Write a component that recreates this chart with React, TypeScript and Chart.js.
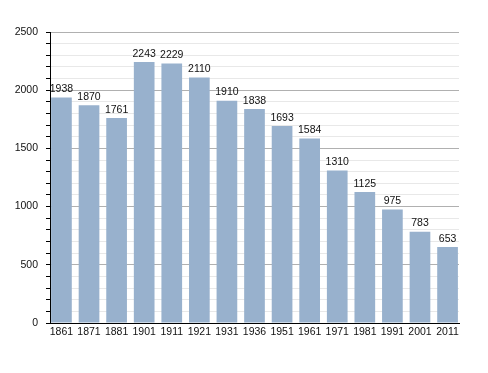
import React, { useEffect, useRef } from "react";
import { Chart, registerables } from "chart.js";

Chart.register(...registerables);

const years: string[] = ["1861", "1871", "1881", "1901", "1911", "1921", "1931", "1936", "1951", "1961", "1971", "1981", "1991", "2001", "2011"];
const population: number[] = [1938, 1870, 1761, 2243, 2229, 2110, 1910, 1838, 1693, 1584, 1310, 1125, 975, 783, 653];
const yMax = 2500;
const yMinorStep = 100;
const yMajorStep = 500;

const FONT = "'Liberation Sans', Arial, sans-serif";

const valueLabels = {
  id: "valueLabels",
  afterDatasetsDraw(chart: any) {
    const ctx = chart.ctx;
    const meta = chart.getDatasetMeta(0);
    ctx.save();
    ctx.font = `10.5px ${FONT}`;
    ctx.fillStyle = "#111";
    ctx.textAlign = "center";
    ctx.textBaseline = "bottom";
    meta.data.forEach((bar: any, i: number) => {
      ctx.fillText(String(population[i]), bar.x, bar.y - 3);
    });
    ctx.restore();
  },
};

export default function App() {
  const ref = useRef<HTMLCanvasElement>(null);
  useEffect(() => {
    if (!ref.current) return;
    const chart = new Chart(ref.current, {
      type: "bar",
      data: {
        datasets: [
          {
            data: population.map((v, i) => ({ x: i, y: v })),
            backgroundColor: "#98b1cd",
            borderWidth: 0,
            barPercentage: 0.75,
            categoryPercentage: 1,
          },
        ],
      },
      options: {
        responsive: false,
        animation: false,
        devicePixelRatio: 1,
        layout: { padding: { top: 32, right: 29, left: 0, bottom: 0 } },
        plugins: { legend: { display: false }, tooltip: { enabled: false } },
        scales: {
          x: {
            type: "linear",
            offset: false,
            min: -0.415,
            max: years.length - 1 + 0.415,
            afterBuildTicks: (scale: any) => {
              scale.ticks = years.map((_, i) => ({ value: i }));
            },
            afterFit: (scale: any) => {
              scale.height = 50;
            },
            grid: { display: false, drawTicks: false, offset: false },
            border: { display: true, color: "#000", width: 1 },
            ticks: {
              autoSkip: false,
              maxRotation: 0,
              padding: 3,
              color: "#111",
              font: { family: FONT, size: 10.5 },
              callback: (v: any) => years[Math.round(Number(v))] ?? "",
            },
          },
          y: {
            min: 0,
            max: yMax,
            afterFit: (scale: any) => {
              scale.width = 50;
            },
            border: { display: true, color: "#000", width: 1 },
            grid: {
              color: (c: any) => (c.tick && c.tick.value % yMajorStep === 0 ? "#b0b0b0" : "#e8e8e8"),
              tickColor: "#000",
              tickLength: 4,
              drawOnChartArea: true,
            },
            ticks: {
              stepSize: yMinorStep,
              autoSkip: false,
              padding: 8,
              color: "#111",
              font: { family: FONT, size: 10.5 },
              callback: (v: any) => (Number(v) % yMajorStep === 0 ? String(v) : ""),
            },
          },
        },
      },
      plugins: [valueLabels],
    });
    return () => chart.destroy();
  }, []);
  return (
    <div style={{ position: "absolute", left: 0, top: 0, width: 488, height: 373, background: "#fff" }}>
      <canvas ref={ref} width={488} height={373} />
    </div>
  );
}
